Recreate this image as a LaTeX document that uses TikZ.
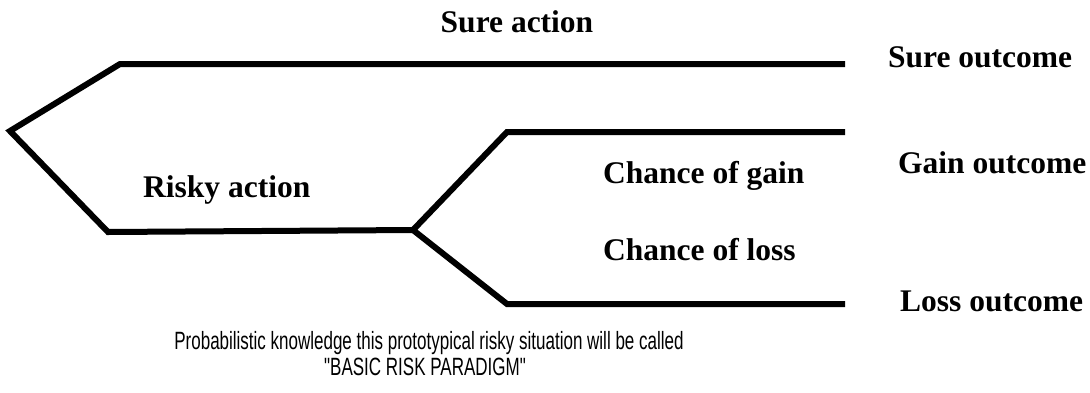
\documentclass[tikz,border=0pt]{standalone}
\usepackage{fontspec}
\setmainfont{Liberation Serif}
\newfontfamily\capfont[FakeStretch=0.68]{Liberation Sans}
\begin{document}
\begin{tikzpicture}[x=1pt,y=-1pt,
  branch/.style={line width=6pt,line join=miter,line cap=butt},
  lbl/.style={inner sep=0pt,font=\fontsize{31.5}{36}\selectfont\bfseries},
  note/.style={inner sep=0pt,font=\capfont\fontsize{25}{29}\selectfont,align=center}]
\useasboundingbox (0,0) rectangle (1090,392);
\coordinate (root) at (10,131);
\coordinate (s1) at (120,64);
\coordinate (s2) at (845,64);
\coordinate (r1) at (108,232);
\coordinate (j) at (413,230);
\coordinate (g1) at (507,132);
\coordinate (g2) at (845,132);
\coordinate (l1) at (507,304);
\coordinate (l2) at (845,304);
\draw[branch] (s2) -- (s1) -- (root) -- (r1) -- (j);
\draw[branch] (g2) -- (g1) -- (j) -- (l1) -- (l2);
\node[lbl,anchor=base] (sa) at (517,32) {Sure action};
\node[lbl,anchor=base west] (so) at (888,67) {Sure outcome};
\node[lbl,anchor=base west] (go) at (898,173) {Gain outcome};
\node[lbl,anchor=base west] (lo) at (900,311) {Loss outcome};
\node[lbl,anchor=base west] (ra) at (143,197) {Risky action};
\node[lbl,anchor=base west] (cg) at (603,183) {Chance of gain};
\node[lbl,anchor=base west] (cl) at (603,260) {Chance of loss};
\node[note,anchor=base] (n1) at (429,349) {Probabilistic knowledge this prototypical risky situation will be called};
\node[note,anchor=base] (n2) at (425,375) {"BASIC RISK PARADIGM"};
\end{tikzpicture}
\end{document}
